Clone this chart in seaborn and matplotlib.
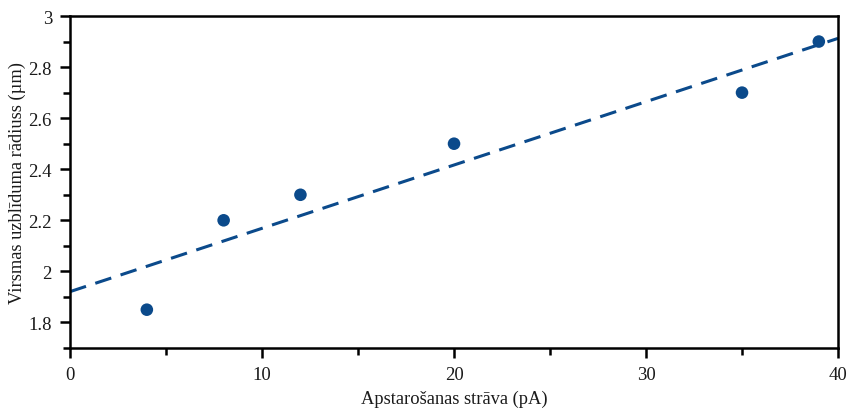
import numpy as np
import pandas as pd
import matplotlib
matplotlib.use("Agg")
import matplotlib.pyplot as plt
import seaborn as sns
from matplotlib.ticker import MultipleLocator

# Measured points
current_pA = [4, 8, 12, 20, 35, 39]
radius_um = [1.85, 2.2, 2.3, 2.5, 2.7, 2.9]

x_ticks = [0, 10, 20, 30, 40]
y_ticks = [1.8, 2.0, 2.2, 2.4, 2.6, 2.8, 3.0]
y_tick_labels = ["1.8", "2", "2.2", "2.4", "2.6", "2.8", "3"]

df = pd.DataFrame({"current": current_pA, "radius": radius_um})

# Linear least-squares fit evaluated across the full axis range
slope, intercept = np.polyfit(df["current"], df["radius"], 1)
fit = pd.DataFrame({"current": [0.0, 40.0]})
fit["radius"] = intercept + slope * fit["current"]

sns.set_theme(style="white")
plt.rcParams["font.family"] = ["Liberation Serif", "DejaVu Serif"]

color = "#0b4a8b"
text_color = "#1a1a1a"

fig = plt.figure(figsize=(8.5, 4.1), dpi=100)
ax = fig.add_axes([0.0824, 0.1488, 0.9035, 0.8097])

sns.lineplot(data=fit, x="current", y="radius", ax=ax, color=color,
             linestyle=(0, (5.5, 3.2)), linewidth=2.2)
sns.scatterplot(data=df, x="current", y="radius", ax=ax, color=color,
                s=82, edgecolor="none", zorder=3)

ax.set_xlim(0, 40)
ax.set_ylim(1.7, 3.0)
ax.set_xticks(x_ticks)
ax.set_xticklabels([str(t) for t in x_ticks])
ax.set_yticks(y_ticks)
ax.set_yticklabels(y_tick_labels)
ax.xaxis.set_minor_locator(MultipleLocator(5))
ax.yaxis.set_minor_locator(MultipleLocator(0.1))

ax.tick_params(axis="both", which="major", direction="out", length=7, width=1.8,
               color="black", labelsize=13.5, labelcolor=text_color,
               bottom=True, left=True, top=False, right=False, pad=6)
ax.tick_params(axis="both", which="minor", direction="out", length=5, width=1.8,
               color="black", bottom=True, left=True, top=False, right=False)

for side in ["left", "right", "top", "bottom"]:
    ax.spines[side].set_visible(True)
    ax.spines[side].set_color("black")
    ax.spines[side].set_linewidth(1.8)

ax.set_xlabel("Apstarošanas strāva (pA)", fontsize=13.3, color=text_color, labelpad=5)
ax.set_ylabel("Virsmas uzblīduma rādiuss (µm)", fontsize=13.3, color=text_color, labelpad=2)
ax.grid(False)

fig.savefig("out.png", dpi=100, facecolor="white")
